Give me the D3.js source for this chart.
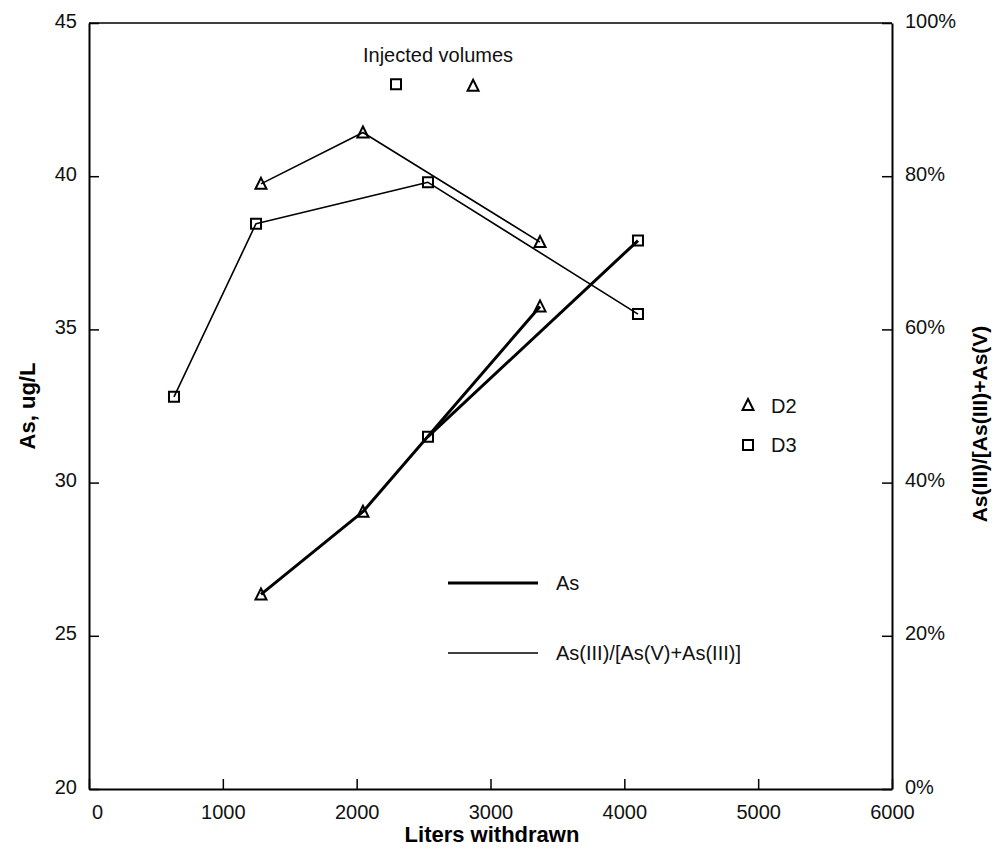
<!DOCTYPE html>
<html>
<head>
<meta charset="utf-8">
<script src="https://cdn.jsdelivr.net/npm/d3@7"></script>
<style>
  html, body { margin: 0; padding: 0; background: #fff; }
  svg { display: block; font-family: "Liberation Sans", Arial, sans-serif; }
</style>
</head>
<body>
<svg id="chart" width="994" height="859"></svg>
<script>
// Liters withdrawn for each well
const d2Liters = [1285, 2047, 3370];
const d3Liters = [635, 1248, 2533, 4102];

// As(III) fraction, percent (right axis)
const d2Ratio = [79.0, 85.7, 71.4];
const d3Ratio = [51.2, 73.8, 79.2, 62.0];

// Total arsenic, ug/L (left axis)
const d2AsLiters = [1285, 2047, 3370];
const d2As = [26.35, 29.05, 35.75];
const d3AsLiters = [2533, 4102];
const d3As = [31.5, 37.9];

// Injected volumes (plotted near the top of the left scale)
const injectedD3 = { liters: 2294, as: 43.0 };
const injectedD2 = { liters: 2870, as: 42.95 };

// Tick labels
const xTicks = [0, 1000, 2000, 3000, 4000, 5000, 6000];
const yLeftTicks = [20, 25, 30, 35, 40, 45];
const yRightTicks = [0, 20, 40, 60, 80, 100];

const svg = d3.select("#chart");
const plotLeft = 89, plotRight = 892, plotTop = 23, plotBottom = 789;

const x = d3.scaleLinear().domain([0, 6000]).range([plotLeft, plotRight]);
const yL = d3.scaleLinear().domain([20, 45]).range([plotBottom, plotTop]);
const yR = d3.scaleLinear().domain([0, 100]).range([plotBottom, plotTop]);

const fontSize = 20;
const titleSize = 22;
const ink = "#111";

// Frame top edge
svg.append("line").attr("x1", plotLeft).attr("x2", plotRight).attr("y1", plotTop).attr("y2", plotTop)
  .attr("stroke", "#000").attr("stroke-width", 1.5);

function styleTicks(g) {
  g.select(".domain").attr("stroke-width", 2);
  g.selectAll(".tick line").attr("stroke-width", 1.5);
  g.selectAll(".tick text").attr("font-size", fontSize)
    .attr("font-family", "Liberation Sans, Arial").attr("fill", ink);
}

// Bottom axis, ticks pointing inward
const xAxis = svg.append("g").attr("transform", `translate(0,${plotBottom})`)
  .call(d3.axisBottom(x).tickValues(xTicks).tickFormat(d3.format("d"))
    .tickSizeInner(-10).tickSizeOuter(0).tickPadding(16));
styleTicks(xAxis);
xAxis.selectAll(".tick text").attr("dx", d => d === 0 ? 8 : 0);

// Left axis
const yAxisL = svg.append("g").attr("transform", `translate(${plotLeft},0)`)
  .call(d3.axisLeft(yL).tickValues(yLeftTicks).tickSizeInner(-10).tickSizeOuter(0).tickPadding(12));
styleTicks(yAxisL);
yAxisL.selectAll(".tick text").attr("dy", "0.2em");

// Right axis
const yAxisR = svg.append("g").attr("transform", `translate(${plotRight},0)`)
  .call(d3.axisRight(yR).tickValues(yRightTicks).tickSizeInner(-10).tickSizeOuter(0).tickPadding(13)
    .tickFormat(d => d + "%"));
styleTicks(yAxisR);
yAxisR.selectAll(".tick text").attr("dy", "0.2em");

// Axis titles
svg.append("text").attr("x", 492).attr("y", 842)
  .attr("text-anchor", "middle").attr("font-weight", "bold").attr("font-size", titleSize)
  .text("Liters withdrawn");
svg.append("text").attr("transform", `translate(35,${(plotTop + plotBottom) / 2}) rotate(-90)`)
  .attr("text-anchor", "middle").attr("font-weight", "bold").attr("font-size", titleSize)
  .text("As, ug/L");
svg.append("text").attr("transform", `translate(987,${(plotTop + plotBottom) / 2 + 18}) rotate(-90)`)
  .attr("text-anchor", "middle").attr("font-weight", "bold").attr("font-size", 21)
  .text("As(III)/[As(III)+As(V)");

// Marker shapes
const triPath = "M0,-6 L5.5,5 L-5.5,5 Z";
const sqPath = "M-5,-5 H5 V5 H-5 Z";

function drawSeries(xs, ys, yScale, width, shape) {
  const pts = xs.map((v, i) => [x(v), yScale(ys[i])]);
  svg.append("path").attr("d", d3.line()(pts))
    .attr("fill", "none").attr("stroke", "#000").attr("stroke-width", width)
    .attr("stroke-linejoin", "round");
  svg.append("g").selectAll("path").data(pts).join("path")
    .attr("transform", d => `translate(${d[0]},${d[1]})`)
    .attr("d", shape).attr("fill", "none").attr("stroke", "#000").attr("stroke-width", 2);
}

// Fraction series (thin)
drawSeries(d2Liters, d2Ratio, yR, 1.6, triPath);
drawSeries(d3Liters, d3Ratio, yR, 1.6, sqPath);
// Arsenic series (thick)
drawSeries(d2AsLiters, d2As, yL, 3, triPath);
drawSeries(d3AsLiters, d3As, yL, 3, sqPath);

// Injected volumes
svg.append("path").attr("transform", `translate(${x(injectedD3.liters)},${yL(injectedD3.as)})`)
  .attr("d", sqPath).attr("fill", "none").attr("stroke", "#000").attr("stroke-width", 2);
svg.append("path").attr("transform", `translate(${x(injectedD2.liters)},${yL(injectedD2.as)})`)
  .attr("d", triPath).attr("fill", "none").attr("stroke", "#000").attr("stroke-width", 2);
svg.append("text").attr("x", 438).attr("y", 62).attr("text-anchor", "middle")
  .attr("font-size", fontSize).attr("fill", ink).text("Injected volumes");

// Well legend
svg.append("path").attr("transform", "translate(748,405)").attr("d", triPath)
  .attr("fill", "none").attr("stroke", "#000").attr("stroke-width", 2);
svg.append("text").attr("x", 771).attr("y", 413).attr("font-size", fontSize).attr("fill", ink).text("D2");
svg.append("path").attr("transform", "translate(748,445)").attr("d", sqPath)
  .attr("fill", "none").attr("stroke", "#000").attr("stroke-width", 2);
svg.append("text").attr("x", 771).attr("y", 452).attr("font-size", fontSize).attr("fill", ink).text("D3");

// Line legend
svg.append("line").attr("x1", 448).attr("x2", 538).attr("y1", 583).attr("y2", 583)
  .attr("stroke", "#000").attr("stroke-width", 3);
svg.append("text").attr("x", 556).attr("y", 590).attr("font-size", fontSize).attr("fill", ink).text("As");
svg.append("line").attr("x1", 448).attr("x2", 538).attr("y1", 653).attr("y2", 653)
  .attr("stroke", "#000").attr("stroke-width", 1.6);
svg.append("text").attr("x", 556).attr("y", 660).attr("font-size", fontSize).attr("fill", ink)
  .text("As(III)/[As(V)+As(III)]");
</script>
</body>
</html>
